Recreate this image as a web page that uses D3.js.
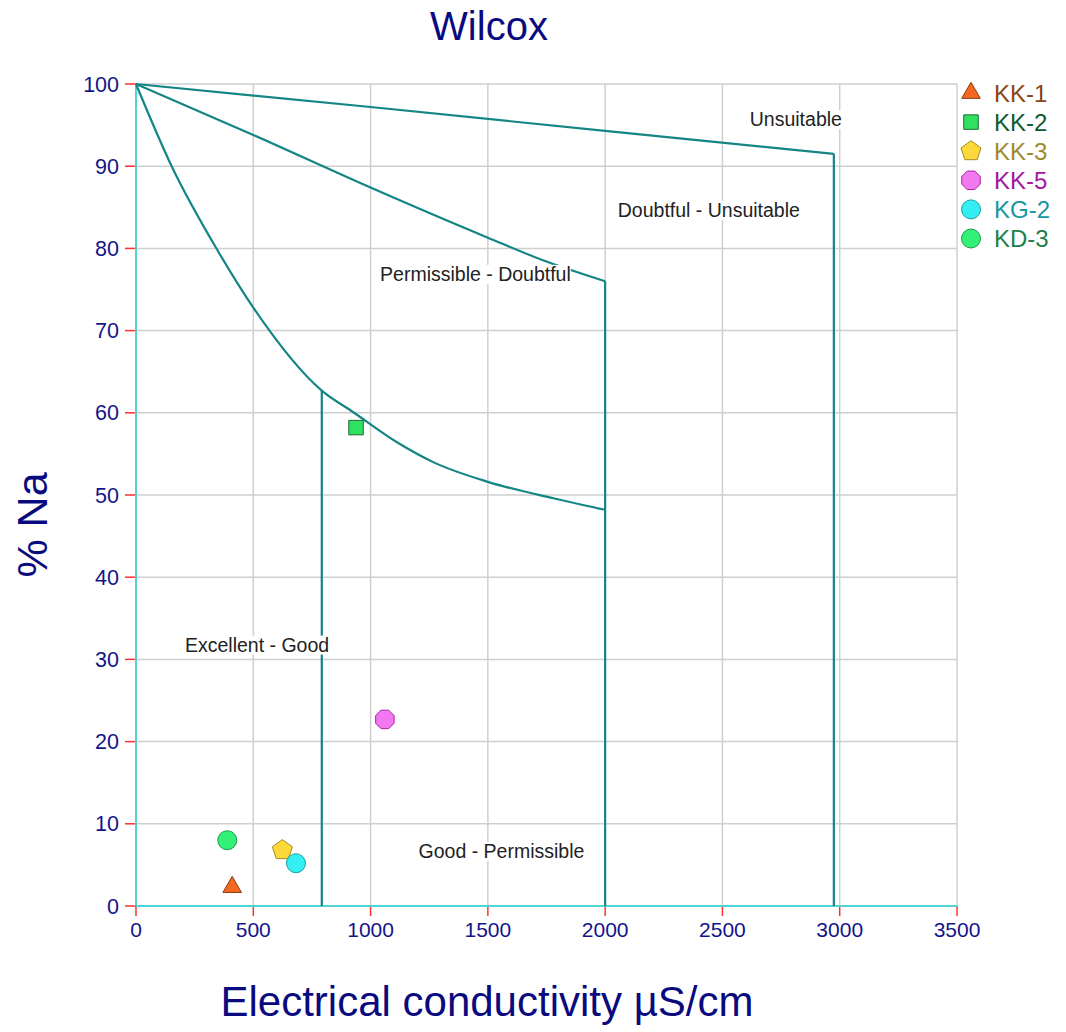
<!DOCTYPE html>
<html>
<head>
<meta charset="utf-8">
<script src="https://cdn.jsdelivr.net/npm/d3@7"></script>
<style>
  html, body { margin: 0; padding: 0; background: #fff; }
  svg { display: block; font-family: "Liberation Sans", Arial, sans-serif; }
</style>
</head>
<body>
<svg id="chart" width="1066" height="1032"></svg>
<script>
// ---- Wilcox diagram data ----
// Class boundary curves (EC in µS/cm, % Na)
const upperEC = [0, 1000, 2000, 2975];
const upperNa = [100, 97.2, 94.3, 91.5];
const middleEC = [0, 500, 1000, 1500, 1750, 2000];
const middleNa = [100, 93.8, 87.4, 81.3, 78.4, 76.0];
const lowerEC = [0, 152, 351, 500, 792, 925, 1125, 1267, 1500, 1779, 2000];
const lowerNa = [100, 90, 79.6, 72.8, 62.7, 60.1, 56.2, 54.0, 51.6, 49.6, 48.2];
// Vertical class limits: EC and top % Na of each
const limitEC = [792, 2000, 2975];
const limitTopNa = [62.7, 76.0, 91.5];

// Class names and where they are written (EC, % Na of label centre)
const zoneNames = ["Unsuitable", "Doubtful - Unsuitable", "Permissible - Doubtful", "Excellent - Good", "Good - Permissible"];
const zoneEC = [2813, 2442, 1447, 516, 1558];
const zoneNa = [95.7, 84.7, 76.9, 31.8, 6.7];

// Water samples
const sampleNames = ["KK-1", "KK-2", "KK-3", "KK-5", "KG-2", "KD-3"];
const sampleEC = [410, 938, 624, 1061, 682, 389];
const sampleNa = [2.3, 58.2, 6.8, 22.7, 5.2, 8.0];
const sampleShape = ["triangle", "square", "pentagon", "octagon", "circle", "circle"];
const sampleFill = ["#f4691f", "#30e060", "#fcd83a", "#f278f0", "#33eef2", "#33f077"];
const sampleStroke = ["#8a3a10", "#1d6a35", "#a58a1e", "#a8229e", "#1aa0a6", "#1f9a50"];
const sampleText = ["#8b4513", "#0d5a2c", "#9d8a2a", "#a3169d", "#1596a0", "#21804a"];

// Axis ticks
const xTicks = [0, 500, 1000, 1500, 2000, 2500, 3000, 3500];
const yTicks = [0, 10, 20, 30, 40, 50, 60, 70, 80, 90, 100];

// ---- drawing ----
const svg = d3.select("#chart");
const x = d3.scaleLinear().domain([0, 3500]).range([136, 957]);
const y = d3.scaleLinear().domain([0, 100]).range([906, 84]);

const navy = "#14148a";
const teal = "#148585";

// grid
const grid = svg.append("g").attr("stroke", "#cfcfcf").attr("stroke-width", 1.5);
grid.selectAll("line.v").data(xTicks.slice(1)).join("line")
  .attr("x1", d => x(d)).attr("x2", d => x(d)).attr("y1", y(0)).attr("y2", y(100));
grid.selectAll("line.h").data(yTicks.slice(1)).join("line")
  .attr("x1", x(0)).attr("x2", x(3500)).attr("y1", d => y(d)).attr("y2", d => y(d));

// ticks (red)
const ticks = svg.append("g").attr("stroke", "#ff3030").attr("stroke-width", 1.5);
ticks.selectAll("line.xt").data(xTicks).join("line")
  .attr("x1", d => x(d)).attr("x2", d => x(d)).attr("y1", y(0)).attr("y2", y(0) + 10);
ticks.selectAll("line.yt").data(yTicks).join("line")
  .attr("y1", d => y(d)).attr("y2", d => y(d)).attr("x1", x(0) - 11).attr("x2", x(0));

// axis lines (cyan)
svg.append("line").attr("x1", x(0)).attr("x2", x(3500)).attr("y1", y(0)).attr("y2", y(0))
  .attr("stroke", "#4fd4d4").attr("stroke-width", 2);
svg.append("line").attr("x1", x(0)).attr("x2", x(0)).attr("y1", y(0)).attr("y2", y(100))
  .attr("stroke", "#4fd4d4").attr("stroke-width", 2);

// tick labels
svg.append("g").selectAll("text").data(xTicks).join("text")
  .attr("x", d => x(d)).attr("y", y(0) + 31)
  .attr("text-anchor", "middle").attr("font-size", 21).attr("fill", navy)
  .text(d => d);
svg.append("g").selectAll("text").data(yTicks).join("text")
  .attr("x", x(0) - 17).attr("y", d => y(d) + 7.5)
  .attr("text-anchor", "end").attr("font-size", 21.5).attr("fill", navy)
  .text(d => d);

// boundary curves
const straight = d3.line().x(d => x(d[0])).y(d => y(d[1]));
const smooth = d3.line().x(d => x(d[0])).y(d => y(d[1])).curve(d3.curveMonotoneX);
const curves = [
  { pts: d3.zip(upperEC, upperNa), gen: straight },
  { pts: d3.zip(middleEC, middleNa), gen: smooth },
  { pts: d3.zip(lowerEC, lowerNa), gen: smooth }
];
svg.append("g").selectAll("path").data(curves).join("path")
  .attr("d", c => c.gen(c.pts)).attr("fill", "none").attr("stroke", teal).attr("stroke-width", 2.2);
svg.append("g").selectAll("line").data(d3.zip(limitEC, limitTopNa)).join("line")
  .attr("x1", d => x(d[0])).attr("x2", d => x(d[0]))
  .attr("y1", d => y(d[1])).attr("y2", y(0))
  .attr("stroke", teal).attr("stroke-width", 2.2);

// class labels on white boxes
const zones = svg.append("g");
zoneNames.forEach((name, i) => {
  const g = zones.append("g");
  const t = g.append("text")
    .attr("x", x(zoneEC[i])).attr("y", y(zoneNa[i]) + 7)
    .attr("text-anchor", "middle").attr("font-size", 19.5).attr("fill", "#222")
    .text(name);
  const b = t.node().getBBox();
  g.insert("rect", "text")
    .attr("x", b.x).attr("y", b.y + 2).attr("width", b.width).attr("height", b.height - 3)
    .attr("fill", "#fff");
});

// marker shapes
function shapePath(kind) {
  if (kind === "triangle") return d3.symbol(d3.symbolTriangle, 150)();
  if (kind === "square") return d3.symbol(d3.symbolSquare, 210)();
  if (kind === "circle") return d3.symbol(d3.symbolCircle, Math.PI * 9.5 * 9.5)();
  const n = kind === "pentagon" ? 5 : 8;
  const r = kind === "pentagon" ? 10.5 : 10;
  const off = kind === "pentagon" ? -Math.PI / 2 : Math.PI / 8;
  const pts = d3.range(n).map(k => {
    const a = off + k * 2 * Math.PI / n;
    return [r * Math.cos(a), r * Math.sin(a)];
  });
  return "M" + pts.join("L") + "Z";
}

// sample points
svg.append("g").selectAll("path").data(sampleNames.map((n, i) => i)).join("path")
  .attr("transform", i => `translate(${x(sampleEC[i])},${y(sampleNa[i])})`)
  .attr("d", i => shapePath(sampleShape[i]))
  .attr("fill", i => sampleFill[i]).attr("stroke", i => sampleStroke[i]).attr("stroke-width", 1);

// legend
const legend = svg.append("g");
sampleNames.forEach((name, i) => {
  const cy = 93 + i * 29.1;
  legend.append("path")
    .attr("transform", `translate(971,${cy})`)
    .attr("d", shapePath(sampleShape[i]))
    .attr("fill", sampleFill[i]).attr("stroke", sampleStroke[i]).attr("stroke-width", 1);
  legend.append("text")
    .attr("x", 994).attr("y", cy + 8.5)
    .attr("font-size", 24).attr("fill", sampleText[i])
    .text(name);
});

// titles
svg.append("text").attr("x", 489).attr("y", 40)
  .attr("text-anchor", "middle").attr("font-size", 40).attr("fill", "#0a0a80")
  .text("Wilcox");
svg.append("text").attr("x", 487).attr("y", 1016)
  .attr("text-anchor", "middle").attr("font-size", 42).attr("fill", "#0a0a80")
  .text("Electrical conductivity µS/cm");
svg.append("text").attr("transform", "translate(47,525) rotate(-90)")
  .attr("text-anchor", "middle").attr("font-size", 43).attr("fill", "#0a0a80")
  .text("% Na");
</script>
</body>
</html>
